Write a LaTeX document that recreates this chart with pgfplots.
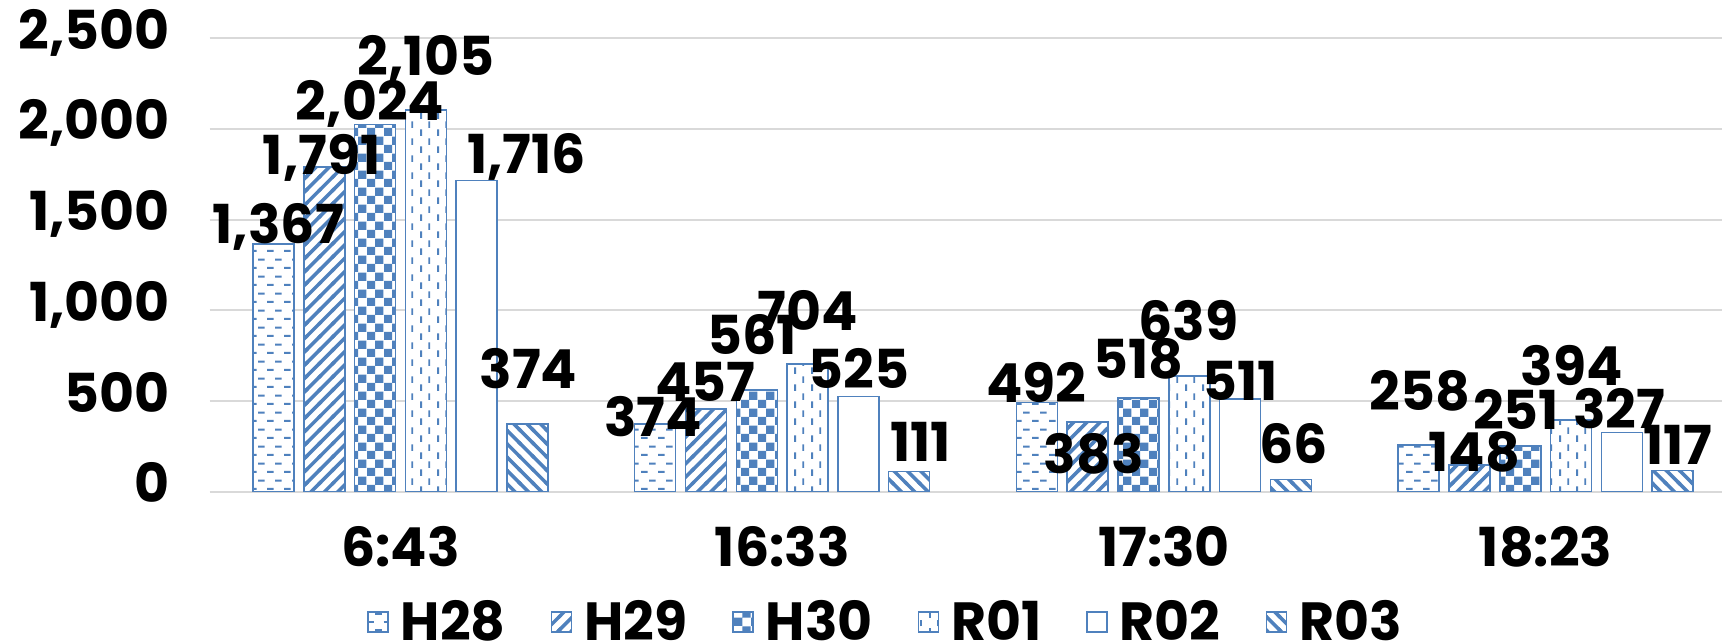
\documentclass[border=0pt]{standalone}
\usepackage{fontspec}
\setmainfont{Poppins}
\usepackage{pgfplots}
\pgfplotsset{compat=1.18}
\usetikzlibrary{patterns}
\definecolor{xblue}{HTML}{4F81BD}
\definecolor{xgrid}{HTML}{D9D9D9}
% dashed horizontal
\pgfdeclarepatternformonly{hdash}{\pgfpointorigin}{\pgfqpoint{6.67pt}{6.67pt}}{\pgfqpoint{6.67pt}{6.67pt}}{%
  \pgfsetlinewidth{0.8pt}%
  \pgfpathmoveto{\pgfqpoint{0pt}{1.67pt}}\pgfpathlineto{\pgfqpoint{2.67pt}{1.67pt}}%
  \pgfpathmoveto{\pgfqpoint{3.33pt}{5pt}}\pgfpathlineto{\pgfqpoint{6pt}{5pt}}%
  \pgfusepath{stroke}}
% dashed vertical
\pgfdeclarepatternformonly{vdash}{\pgfpointorigin}{\pgfqpoint{6.67pt}{6.67pt}}{\pgfqpoint{6.67pt}{6.67pt}}{%
  \pgfsetlinewidth{0.8pt}%
  \pgfpathmoveto{\pgfqpoint{1.67pt}{0pt}}\pgfpathlineto{\pgfqpoint{1.67pt}{2.67pt}}%
  \pgfpathmoveto{\pgfqpoint{5pt}{3.33pt}}\pgfpathlineto{\pgfqpoint{5pt}{6pt}}%
  \pgfusepath{stroke}}
% large checkerboard
\pgfdeclarepatternformonly{bigcheck}{\pgfpointorigin}{\pgfqpoint{6.67pt}{6.67pt}}{\pgfqpoint{6.67pt}{6.67pt}}{%
  \pgfpathrectangle{\pgfpointorigin}{\pgfqpoint{3.335pt}{3.335pt}}%
  \pgfpathrectangle{\pgfqpoint{3.335pt}{3.335pt}}{\pgfqpoint{3.335pt}{3.335pt}}%
  \pgfusepath{fill}}
% wide upward diagonal
\pgfdeclarepatternformonly{wne}{\pgfqpoint{-1pt}{-1pt}}{\pgfqpoint{6.33pt}{6.33pt}}{\pgfqpoint{5.33pt}{5.33pt}}{%
  \pgfsetlinewidth{1.4pt}%
  \pgfpathmoveto{\pgfqpoint{-0.5pt}{-0.5pt}}\pgfpathlineto{\pgfqpoint{5.83pt}{5.83pt}}%
  \pgfusepath{stroke}}
% wide downward diagonal
\pgfdeclarepatternformonly{wnw}{\pgfqpoint{-1pt}{-1pt}}{\pgfqpoint{6.33pt}{6.33pt}}{\pgfqpoint{5.33pt}{5.33pt}}{%
  \pgfsetlinewidth{1.4pt}%
  \pgfpathmoveto{\pgfqpoint{-0.5pt}{5.83pt}}\pgfpathlineto{\pgfqpoint{5.83pt}{-0.5pt}}%
  \pgfusepath{stroke}}
\newcommand\chf{\fontsize{21.5}{26}\selectfont\bfseries}
\pgfplotsset{barbase/.style={draw=xblue, line width=0.6pt, fill=white}}

\begin{document}
\begin{tikzpicture}
\useasboundingbox (-83.88pt,-60.52pt) rectangle (604.92pt,196.68pt);
\clip (-83.88pt,-60.52pt) rectangle (604.92pt,196.68pt);
\begin{axis}[
  at={(0pt,0pt)}, anchor=south west, scale only axis,
  width=604.92pt, height=181.36pt,
  xmin=-0.5, xmax=3.462, ymin=0, ymax=2500,
  ybar=3.92pt, bar width=16.4pt,
  xtick={0,1,2,3}, xticklabels={6:43,16:33,17:30,18:23},
  ytick={0,500,1000,1500,2000,2500},
  ymajorgrids, major grid style={draw=xgrid, line width=0.8pt},
  axis line style={draw=none}, major tick length=0pt, tick style={draw=none},
  /pgf/number format/1000 sep={,}, /pgf/number format/assume math mode=true,
  tick label style={font=\chf, inner sep=0pt},
  yticklabel style={anchor=base east, xshift=-15.7pt, yshift=-4.4pt},
  xticklabel style={anchor=base, yshift=-29.9pt},
  nodes near coords,
  visualization depends on={\thisrow{dx}\as\mydx},
  visualization depends on={\thisrow{dy}\as\mydy},
  every node near coord/.append style={font=\chf, inner sep=0pt, anchor=base, xshift=\mydx*0.4pt, yshift=\mydy*0.4pt, text=black},
  legend columns=6,
  legend style={at={(0.4479,-0.2874)}, anchor=center, draw=none, fill=none, font=\chf,
    /tikz/every odd column/.append style={column sep=2.8pt},
    /tikz/every even column/.append style={column sep=16pt}},
  legend image code/.code={\draw[#1] (0pt,-4pt) rectangle (8pt,4pt);},
]
\addplot[barbase, postaction={pattern=hdash, pattern color=xblue}] table[x=x,y=y] {
x y dx dy
0 1367 4.8 0.5
1 374 -2.2 -12.8
2 492 -0.8 0
3 258 1.5 34.9
};
\addplot[barbase, postaction={pattern=wne, pattern color=xblue}] table[x=x,y=y] {
x y dx dy
0 1791 -2.6 -8
1 457 -0.5 7.1
2 383 5.9 -51
3 148 4.9 -6.8
};
\addplot[barbase, postaction={pattern=bigcheck, pattern color=xblue}] table[x=x,y=y] {
x y dx dy
0 2024 -5.1 4.6
1 561 -4.6 35
2 518 0 19.5
3 251 -4.3 16.2
};
\addplot[barbase, postaction={pattern=vdash, pattern color=xblue}] table[x=x,y=y] {
x y dx dy
0 2105 0 34.9
1 704 0.4 34
2 639 -0.7 35.8
3 394 0.8 35.2
};
\addplot[barbase] table[x=x,y=y] {
x y dx dy
0 1716 50 7.2
1 525 0.5 8.2
2 511 0 -1
3 327 -2.5 4.1
};
\addplot[barbase, postaction={pattern=wnw, pattern color=xblue}] table[x=x,y=y] {
x y dx dy
0 374 0.8 35.6
1 111 11.3 9.9
2 66 2.7 16.4
3 117 5.5 5.5
};
\legend{H28,H29,H30,R01,R02,R03}
\end{axis}
\end{tikzpicture}
\end{document}
